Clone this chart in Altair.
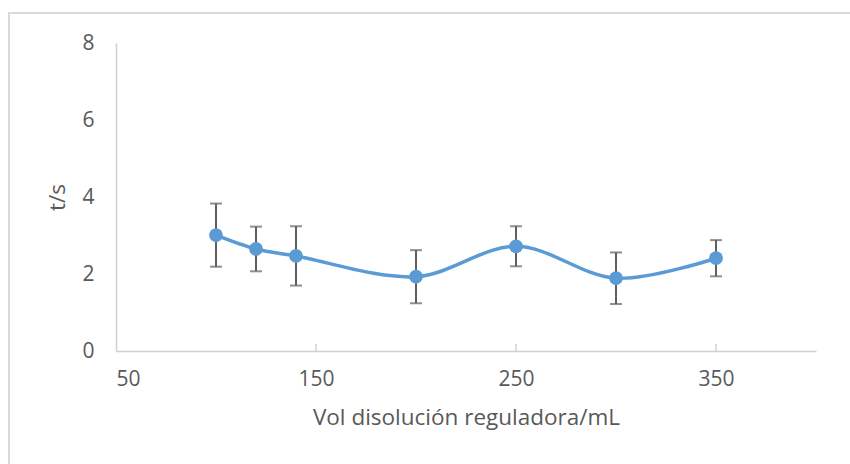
import altair as alt
import pandas as pd

vol = [100, 120, 140, 200, 250, 300, 350]
t = [3.01, 2.65, 2.47, 1.93, 2.72, 1.89, 2.41]
err = [0.82, 0.58, 0.77, 0.69, 0.52, 0.67, 0.47]
x_ticks = [150, 250, 350]

df = pd.DataFrame({"vol": vol, "t": t, "err": err})
df["lo"] = df["t"] - df["err"]
df["hi"] = df["t"] + df["err"]

FONT = "Open Sans"
TXT = "#595959"

xs = alt.Scale(domain=[50, 400], nice=False, zero=False)
ys = alt.Scale(domain=[0, 8], nice=False)

base = alt.Chart(df)

x_enc = alt.X("vol:Q", scale=xs,
              axis=alt.Axis(title="Vol disolución reguladora/mL", values=[50, 150, 250, 350],
                            ticks=False, grid=False, domainColor="#D0D0D0", domainWidth=1.5,
                            labelFontSize=21, labelColor=TXT, labelFont=FONT, labelPadding=17,
                            titleFontSize=22.5, titleColor=TXT, titleFont=FONT, titleFontWeight="normal",
                            titlePadding=17))
y_enc = alt.Y("t:Q", scale=ys,
              axis=alt.Axis(title="t/s", values=[0, 2, 4, 6, 8], ticks=False, grid=False,
                            domainColor="#D0D0D0", domainWidth=1.5,
                            labelFontSize=21, labelColor=TXT, labelFont=FONT, labelPadding=22,
                            titleFontSize=22.5, titleColor=TXT, titleFont=FONT, titleFontWeight="normal",
                            titlePadding=12))

bars = base.mark_rule(color="#5F5F5F", strokeWidth=2).encode(
    x=alt.X("vol:Q", scale=xs), y=alt.Y("lo:Q", scale=ys), y2="hi:Q")
cap_hi = base.mark_tick(color="#5F5F5F", orient="horizontal", size=12, thickness=2).encode(
    x=alt.X("vol:Q", scale=xs), y=alt.Y("hi:Q", scale=ys))
cap_lo = base.mark_tick(color="#5F5F5F", orient="horizontal", size=12, thickness=2).encode(
    x=alt.X("vol:Q", scale=xs), y=alt.Y("lo:Q", scale=ys))
line = base.mark_line(color="#5B9BD5", strokeWidth=3.5, interpolate="catmull-rom").encode(
    x=x_enc, y=y_enc)
pts = base.mark_circle(color="#5B9BD5", size=190, opacity=1).encode(
    x=alt.X("vol:Q", scale=xs), y=alt.Y("t:Q", scale=ys))

tick_df = pd.DataFrame({"xt": x_ticks})
xtick = alt.Chart(tick_df).mark_rule(color="#D0D0D0", strokeWidth=1.5).encode(
    x=alt.X("xt:Q", scale=xs), y=alt.value(301), y2=alt.value(308))

border_top = alt.Chart(tick_df).mark_rule(color="#D9D9D9", strokeWidth=2).encode(
    x=alt.value(-108), x2=alt.value(740), y=alt.value(-30))
border_left = alt.Chart(tick_df).mark_rule(color="#D9D9D9", strokeWidth=2).encode(
    x=alt.value(-107), y=alt.value(-31), y2=alt.value(430))

chart = alt.layer(border_top, border_left, xtick, line, bars, cap_hi, cap_lo, pts).properties(
    width=700, height=308,
    padding={"left": 116, "top": 43, "right": 34, "bottom": 113},
    autosize=alt.AutoSizeParams(type="none"),
    background="white",
).configure_view(stroke=None)

chart.save("out.html", embed_options={"renderer": "svg", "actions": False})
